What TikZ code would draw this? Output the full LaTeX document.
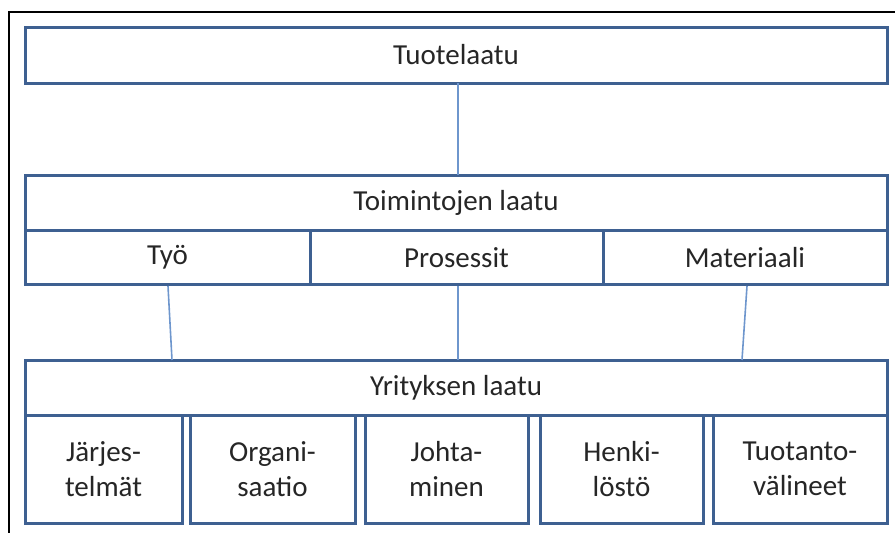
\documentclass[tikz,border=0pt]{standalone}
\usepackage{fontspec}
\setmainfont{Carlito}
\usetikzlibrary{calc}
\definecolor{boxline}{RGB}{62,96,145}
\definecolor{linkline}{RGB}{110,150,205}
\begin{document}
\begin{tikzpicture}[x=1pt,y=-1pt,
  box/.style={draw=boxline, line width=3pt, fill=white, inner sep=0pt, outer sep=0pt,
    font=\fontsize{29}{35}\selectfont, text=black!85, align=center},
  link/.style={draw=linkline, line width=1.6pt}]
\useasboundingbox (0,0) rectangle (895,533);
% frame
\draw[black, line width=2pt] (9,533) -- (9,12) -- (895,12);

% product quality
\node[box, minimum width=862pt, minimum height=56pt] (prod) at (456,55) {Tuotelaatu};

% quality of operations
\node[box, minimum width=862pt, minimum height=55pt] (toim) at (456,202.5) {Toimintojen laatu};
\node[box, minimum width=285pt, minimum height=54pt] (tyo) at (167.5,257.5) {Työ};
\node[box, minimum width=293pt, minimum height=54pt] (pros) at (456.5,257.5) {Prosessit};
\node[box, minimum width=284pt, minimum height=54pt] (mat) at (745,257.5) {Materiaali};

% company quality
\node[box, minimum width=862pt, minimum height=55pt] (yr) at (456,387.5) {Yrityksen laatu};
\node[box, minimum width=157pt, minimum height=108pt] (jar) at (103.5,469) {Järjes-\\telmät};
\node[box, minimum width=165pt, minimum height=108pt] (org) at (272.5,469) {Organi-\\saatio};
\node[box, minimum width=163pt, minimum height=108pt] (joh) at (446.5,469) {Johta-\\minen};
\node[box, minimum width=163pt, minimum height=108pt] (hen) at (621.5,469) {Henki-\\löstö};
\node[box, minimum width=174pt, minimum height=108pt] (tuo) at (800,469) {Tuotanto-\\välineet};

% connectors
\coordinate (ptop) at ($(prod.south)+(2,0)$);
\coordinate (tbot) at ($(toim.north)+(2,0)$);
\coordinate (ytyo) at (172,360);
\coordinate (ypro) at (458,360);
\coordinate (ymat) at (742,360);
\coordinate (ppro) at ($(pros.south)+(1.5,1.5)$);
\draw[link] (ptop) -- (tbot);
\draw[link] ($(tyo.south)+(0.5,1.5)$) -- (ytyo);
\draw[link] (ppro) -- (ypro);
\draw[link] ($(mat.south)+(2,1.5)$) -- (ymat);
\end{tikzpicture}
\end{document}
